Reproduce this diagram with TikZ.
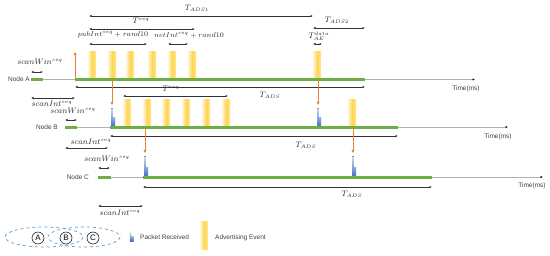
\documentclass[tikz,border=0pt]{standalone}
\usepackage{fontspec}
\setmainfont{Liberation Sans}
\usetikzlibrary{arrows.meta}
\definecolor{gbarc}{HTML}{70AD47}
\definecolor{orng}{HTML}{ED7D31}
\definecolor{pblue}{HTML}{4472C4}
\definecolor{lblue}{HTML}{5B9BD5}
\definecolor{advL}{HTML}{FFF4D6}
\definecolor{advM}{HTML}{FFD54F}
\definecolor{advR}{HTML}{FFE79A}
\newcommand\mypkt[3]{%
  \fill[bottom color=pblue, top color=pblue!25] ({#1-0.6},#2) rectangle ({#1+0.6},{#2-#3});
  \fill[bottom color=pblue, top color=pblue!60] ({#1+0.6},#2) rectangle ({#1+3.2},{#2-0.45*#3});}
\begin{document}
\begin{tikzpicture}[x=1pt,y=-1pt,
  lbl/.style={font=\fontsize{7.8}{9}\selectfont, text=black!85, inner sep=0},
  slbl/.style={font=\fontsize{7.1}{8}\selectfont, text=black!85, inner sep=0},
  txt/.style={font=\fontsize{6.5}{7.5}\selectfont, text=black!75, inner sep=0},
  axisline/.style={draw=black!30, line width=0.6pt, -{Latex[length=2.5pt,width=2.2pt,color=black]}},
  gline/.style={draw=gbarc, line width=3pt},
  dim/.style={draw=black!80, line width=0.6pt, {Latex[length=2.5pt,width=2.2pt]}-{Latex[length=2.5pt,width=2.2pt]}},
  oarr/.style={draw=orng, line width=0.7pt, -{Triangle[length=3.2pt,width=2.8pt]}},
  advbar/.style={left color=advL, right color=advR, middle color=advM, minimum width=8pt, minimum height=26pt, inner sep=0, anchor=south west},
  circ/.style={draw=black, line width=0.5pt, circle, minimum size=12pt, inner sep=0, font=\fontsize{8}{9}\selectfont},
  rng/.style={draw=lblue, dashed, line width=0.7pt}]
\useasboundingbox (0,0) rectangle (550,255);

% ---------------- Node A ----------------
\coordinate (a0) at (31,79.5); \coordinate (a1) at (43,79.5);
\coordinate (a2) at (75,79.5); \coordinate (a3) at (365,79.5);
\coordinate (aend) at (475,79.5);
\foreach \x [count=\i] in {88,108,126,148,168,188,313}
  \node[advbar] (ae\i) at (\x,78) {};
\draw[axisline] (a0) -- (aend);
\draw[gline] (a0) -- (a1);
\draw[gline] (a2) -- (a3);
\node[txt, anchor=east] (nA) at (30,79.5) {Node A};
\node[txt] (tA) at (466,89) {Time(ms)};
\coordinate (up0) at (75,78); \coordinate (up1) at (75,52);
\draw[oarr] (up0) -- (up1);

% dimension arrows of A
\coordinate (d1a) at (89,16); \coordinate (d1b) at (313,16);
\draw[dim] (d1a) -- (d1b);
\node[lbl] (Lads1) at (197,8) {$T_{ADS1}$};
\coordinate (d2a) at (89,29); \coordinate (d2b) at (195,29);
\draw[dim] (d2a) -- (d2b);
\node[lbl] (Ltseq) at (141,21) {$T^{seq}$};
\coordinate (d3a) at (89,44); \coordinate (d3b) at (147,44);
\draw[dim] (d3a) -- (d3b);
\node[slbl] (Lpub) at (113,35) {$pubInt^{seq}+rand10$};
\coordinate (d4a) at (168,44); \coordinate (d4b) at (188,44);
\draw[dim] (d4a) -- (d4b);
\node[slbl] (Lnet) at (189,35) {$netInt^{seq}+rand10$};
\coordinate (d5a) at (313,28); \coordinate (d5b) at (365,28);
\draw[dim] (d5a) -- (d5b);
\node[lbl] (Lads2) at (337,20) {$T_{ADS2}$};
\coordinate (d6a) at (313,44); \coordinate (d6b) at (322,44);
\draw[dim] (d6a) -- (d6b);
\node[lbl] (Lae) at (319,36) {$T_{AE}^{data}$};
\coordinate (d7a) at (31,72); \coordinate (d7b) at (43,72);
\draw[dim] (d7a) -- (d7b);
\node[lbl] (LswA) at (40,62) {$scanWin^{seq}$};
\coordinate (d8a) at (75,87); \coordinate (d8b) at (365,87);
\draw[dim] (d8a) -- (d8b);
\node[lbl] (LadsA) at (270,95) {$T_{ADS}$};
\coordinate (d9a) at (31,98); \coordinate (d9b) at (75,98);
\draw[dim] (d9a) -- (d9b);
\node[lbl] (LsiA) at (52,104) {$scanInt^{seq}$};

% ---------------- Node B ----------------
\coordinate (b0) at (65,127); \coordinate (b1) at (77,127);
\coordinate (b2) at (110,127); \coordinate (b3) at (398,127);
\coordinate (bend) at (508,127);
\foreach \x [count=\i] in {123,143,162,182,202,222,348}
  \node[advbar] (be\i) at (\x,126) {};
\mypkt{112}{126}{18}
\mypkt{318}{126}{18}
\draw[axisline] (b0) -- (bend);
\draw[gline] (b0) -- (b1);
\draw[gline] (b2) -- (b3);
\node[txt, anchor=east] (nB) at (58,127) {Node B};
\node[txt] (tB) at (498,137) {Time(ms)};
\coordinate (o1a) at (112,81); \coordinate (o1b) at (112,105);
\draw[oarr] (o1a) -- (o1b);
\coordinate (o2a) at (318,81); \coordinate (o2b) at (318,105);
\draw[oarr] (o2a) -- (o2b);

\coordinate (e1a) at (65,120); \coordinate (e1b) at (77,120);
\draw[dim] (e1a) -- (e1b);
\node[lbl] (LswB) at (73,111) {$scanWin^{seq}$};
\coordinate (e2a) at (123,96); \coordinate (e2b) at (228,96);
\draw[dim] (e2a) -- (e2b);
\node[lbl] (LtseqB) at (171,89) {$T^{seq}$};
\coordinate (e3a) at (110,136); \coordinate (e3b) at (398,136);
\draw[dim] (e3a) -- (e3b);
\node[lbl] (LadsB) at (306,145) {$T_{ADS}$};
\coordinate (e4a) at (65,148); \coordinate (e4b) at (108,148);
\draw[dim] (e4a) -- (e4b);
\node[lbl] (LsiB) at (91,142) {$scanInt^{seq}$};

% ---------------- Node C ----------------
\coordinate (c0) at (98,177); \coordinate (c1) at (111,177);
\coordinate (c2) at (143,177); \coordinate (c3) at (432,177);
\coordinate (cend) at (543,177);
\mypkt{145}{176}{20}
\mypkt{353}{176}{20}
\draw[axisline] (c0) -- (cend);
\draw[gline] (c0) -- (c1);
\draw[gline] (c2) -- (c3);
\node[txt, anchor=east] (nC) at (89,177) {Node C};
\node[txt] (tC) at (532,186) {Time(ms)};
\coordinate (o3a) at (145,129); \coordinate (o3b) at (145,153);
\draw[oarr] (o3a) -- (o3b);
\coordinate (o4a) at (353,129); \coordinate (o4b) at (353,153);
\draw[oarr] (o4a) -- (o4b);

\coordinate (f1a) at (98,168); \coordinate (f1b) at (110,168);
\draw[dim] (f1a) -- (f1b);
\node[lbl] (LswC) at (107,159) {$scanWin^{seq}$};
\coordinate (f2a) at (143,187); \coordinate (f2b) at (432,187);
\draw[dim] (f2a) -- (f2b);
\node[lbl] (LadsC) at (352,194) {$T_{ADS}$};
\coordinate (f3a) at (98,206); \coordinate (f3b) at (143,206);
\draw[dim] (f3a) -- (f3b);
\node[lbl] (LsiC) at (120,213) {$scanInt^{seq}$};

% ---------------- Legend ----------------
\draw[rng] (44,237) ellipse [x radius=39, y radius=10];
\draw[rng] (84,237) ellipse [x radius=36, y radius=10];
\node[circ] (cA) at (38,238) {A};
\node[circ] (cB) at (66,238) {B};
\node[circ] (cC) at (93,238) {C};
\mypkt{130.5}{241}{9}
\node[txt, anchor=west] (lpk) at (140,237.5) {Packet Received};
\node[advbar, minimum height=28pt] (lad) at (200,250) {};
\node[txt, anchor=west] (lae) at (215,237.5) {Advertising Event};
\end{tikzpicture}
\end{document}
